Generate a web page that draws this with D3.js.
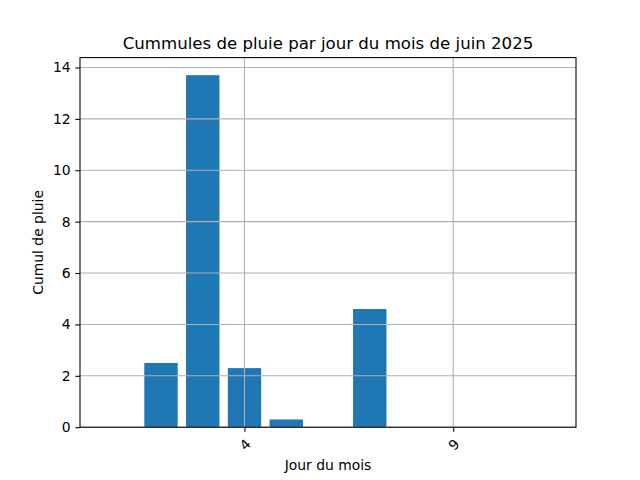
<!DOCTYPE html>
<html>
<head>
<meta charset="utf-8">
<script src="https://cdn.jsdelivr.net/npm/d3@7"></script>
<style>
  body { margin: 0; background: #fff; }
  text { font-family: "DejaVu Sans", sans-serif; fill: #000; }
</style>
</head>
<body>
<svg id="chart"></svg>
<script>
// rain totals per day, june 2025
var days = [1, 2, 3, 4, 5, 6, 7, 8, 9, 10, 11];
var rain = [0, 2.5, 13.7, 2.3, 0.3, 0, 4.6, 0, 0, 0, 0];
var xTicks = [4, 9];
var yTicks = [0, 2, 4, 6, 8, 10, 12, 14];

var svgWidth = 640, svgHeight = 480;
// plot box, same fractions as matplotlib's default subplot
var plotLeft = 80, plotRight = 576, plotTop = 57.6, plotBottom = 427.2;
var barW = 0.8;
var labelSize = 13.9, titleSize = 16.6;

var svg = d3.select("#chart")
    .attr("width", svgWidth)
    .attr("height", svgHeight);

// 5% margins like matplotlib autoscale
var xmin = d3.min(days) - barW / 2, xmax = d3.max(days) + barW / 2;
var xpad = (xmax - xmin) * 0.05;
var x = d3.scaleLinear()
    .domain([xmin - xpad, xmax + xpad])
    .range([plotLeft, plotRight]);

var ymax = d3.max(rain) * 1.05;
var y = d3.scaleLinear()
    .domain([0, ymax])
    .range([plotBottom, plotTop]);

// bars
svg.append("g")
    .selectAll("rect")
    .data(days)
    .enter()
    .append("rect")
    .attr("x", function(d) { return x(d - barW / 2); })
    .attr("width", function(d) { return x(d + barW / 2) - x(d - barW / 2); })
    .attr("y", function(d, i) { return y(rain[i]); })
    .attr("height", function(d, i) { return y(0) - y(rain[i]); })
    .style("fill", "#1f77b4");

// grid (drawn over the bars like in the original)
var grid = svg.append("g")
    .attr("stroke", "#b0b0b0")
    .attr("stroke-width", 1.07);
grid.selectAll("line.gx")
    .data(xTicks)
    .enter()
    .append("line")
    .attr("class", "gx")
    .attr("x1", function(d) { return x(d); })
    .attr("x2", function(d) { return x(d); })
    .attr("y1", plotTop)
    .attr("y2", plotBottom);
grid.selectAll("line.gy")
    .data(yTicks)
    .enter()
    .append("line")
    .attr("class", "gy")
    .attr("y1", function(d) { return y(d); })
    .attr("y2", function(d) { return y(d); })
    .attr("x1", plotLeft)
    .attr("x2", plotRight);

// axes
var xAxis = d3.axisBottom(x)
    .tickValues(xTicks)
    .tickSize(4.67)
    .tickPadding(4.67)
    .tickFormat(d3.format("d"));
var gx = svg.append("g")
    .attr("transform", "translate(0," + plotBottom + ")")
    .call(xAxis);
gx.select(".domain").remove();
gx.selectAll("text")
    .attr("font-size", labelSize)
    .attr("font-family", "DejaVu Sans")
    .attr("dy", null)
    .attr("y", 0)
    .attr("text-anchor", "middle")
    .attr("dominant-baseline", "central")
    .attr("transform", "translate(0,17.5) rotate(-45)");

var yAxis = d3.axisLeft(y)
    .tickValues(yTicks)
    .tickSize(4.67)
    .tickPadding(4.67)
    .tickFormat(d3.format("d"));
var gy = svg.append("g")
    .attr("transform", "translate(" + plotLeft + ",0)")
    .call(yAxis);
gy.select(".domain").remove();
gy.selectAll("text")
    .attr("font-size", labelSize)
    .attr("font-family", "DejaVu Sans");

svg.selectAll(".tick line")
    .attr("stroke", "#000")
    .attr("stroke-width", 1.07);

// frame
svg.append("rect")
    .attr("x", plotLeft)
    .attr("y", plotTop)
    .attr("width", plotRight - plotLeft)
    .attr("height", plotBottom - plotTop)
    .attr("fill", "none")
    .attr("stroke", "#000")
    .attr("stroke-width", 1.07);

// titles
svg.append("text")
    .text("Cummules de pluie par jour du mois de juin 2025")
    .attr("x", (plotLeft + plotRight) / 2)
    .attr("y", 48.5)
    .attr("text-anchor", "middle")
    .attr("font-size", titleSize);

svg.append("text")
    .text("Jour du mois")
    .attr("x", (plotLeft + plotRight) / 2)
    .attr("y", 470)
    .attr("text-anchor", "middle")
    .attr("font-size", labelSize);

svg.append("text")
    .text("Cumul de pluie")
    .attr("transform", "translate(43," + (plotTop + plotBottom) / 2 + ") rotate(-90)")
    .attr("text-anchor", "middle")
    .attr("font-size", labelSize);
</script>
</body>
</html>
